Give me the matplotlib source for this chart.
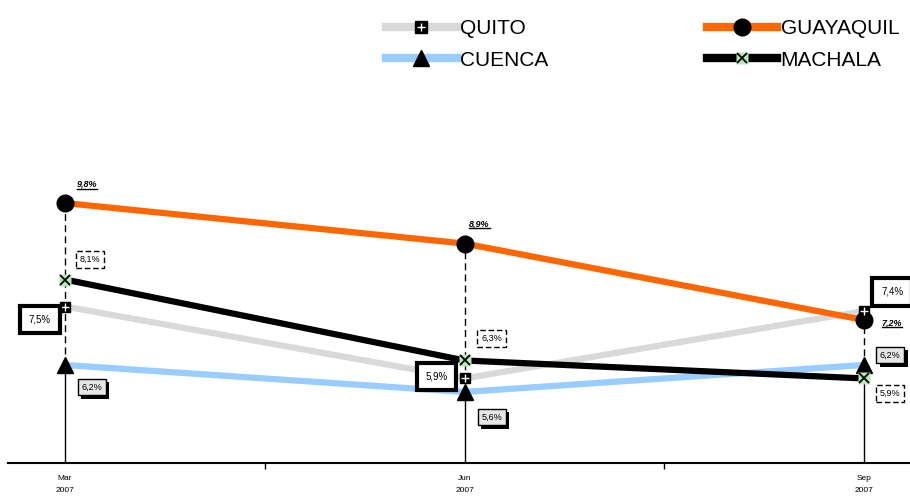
import numpy as np
import matplotlib
matplotlib.use("Agg")
import matplotlib.pyplot as plt
from matplotlib.lines import Line2D
from matplotlib.legend_handler import HandlerTuple
import matplotlib.patheffects as pe

plt.rcParams['font.family'] = ['Liberation Sans', 'DejaVu Sans']

months = ['Mar\n2007', 'Jun\n2007', 'Sep\n2007']
quito = [7.5, 5.9, 7.4]
guayaquil = [9.8, 8.9, 7.2]
cuenca = [6.2, 5.6, 6.2]
machala = [8.1, 6.3, 5.9]

C_QUITO = '#d9d9d9'
C_GYE = '#ff6600'
C_CUE = '#99ccff'
C_MACH = '#000000'


def fmt(v):
    return f"{v:.1f}%".replace('.', ',')


fig = plt.figure(figsize=(9.1, 5), dpi=100)
ax = fig.add_axes([8 / 910, 37 / 500, 902 / 910, 313 / 500])
x = np.arange(len(months))
ymin, ymax = 4.02, 10.98
ax.set_xlim(-0.1427, 2.115)
ax.set_ylim(ymin, ymax)

# drop lines / high-low lines
allv = np.array([quito, guayaquil, cuenca, machala])
lo = allv.min(axis=0)
hi = allv.max(axis=0)
ax.vlines(x, ymin, lo, colors='black', lw=1, zorder=1)
ax.vlines(x, lo, hi, colors='black', lw=1, linestyles=(0, (5, 3)), zorder=1)

# lines
ax.plot(x, quito, color=C_QUITO, lw=4.5, solid_capstyle='butt', zorder=2)
ax.plot(x, cuenca, color=C_CUE, lw=4.5, solid_capstyle='butt', zorder=2)
ax.plot(x, machala, color=C_MACH, lw=4.5, solid_capstyle='butt', zorder=3)
ax.plot(x, guayaquil, color=C_GYE, lw=4.5, solid_capstyle='butt', zorder=3)

# markers
ax.plot(x, quito, 's', color='black', ms=7, zorder=5)
ax.plot(x, quito, '+', color='white', ms=6, mew=1, zorder=6)
ax.plot(x, cuenca, '^', color='black', ms=11, zorder=5)
ax.plot(x, machala, 's', color='#b8e8b8', ms=8, mec='none', zorder=5)
ax.plot(x, machala, 'x', color='black', ms=7, mew=1.3, zorder=6)
ax.plot(x, guayaquil, 'o', color='black', ms=12, zorder=5)

lab_fs = 6.5

# Guayaquil labels (underlined, no box)
gye_off = [(22, 19), (15, 20), (28, -3)]
gye_txt = []
for xi, v, off in zip(x, guayaquil, gye_off):
    t = ax.annotate(fmt(v), (xi, v), xytext=off, textcoords='offset pixels',
                    ha='center', va='center', fontsize=lab_fs, fontweight='bold',
                    fontstyle='italic', zorder=8)
    gye_txt.append(t)

# Machala labels (dashed box)
mach_off = [(25, 20), (27, 22), (26, -15)]
for xi, v, off in zip(x, machala, mach_off):
    ax.annotate(fmt(v), (xi, v), xytext=off, textcoords='offset pixels',
                ha='center', va='center', fontsize=lab_fs, zorder=8,
                bbox=dict(boxstyle='square,pad=0.45', fc='white', ec='black',
                          lw=1, ls=(0, (4, 2))))

# Quito labels (heavy box)
quito_off = [(-25, -13), (-28, 2), (28, 19)]
for xi, v, off in zip(x, quito, quito_off):
    t = ax.annotate(fmt(v), (xi, v), xytext=off, textcoords='offset pixels',
                    ha='center', va='center', fontsize=lab_fs + 0.5, zorder=8,
                    bbox=dict(boxstyle='square,pad=0.9', fc='white', ec='black', lw=3))
    t.get_bbox_patch().set_path_effects([
        pe.SimplePatchShadow(offset=(-1.5, -1.5), shadow_rgbFace='black', alpha=1),
        pe.Normal()])

# Cuenca labels (grey box with shadow)
cue_off = [(27, -22), (27, -25), (26, 10)]
for xi, v, off in zip(x, cuenca, cue_off):
    t = ax.annotate(fmt(v), (xi, v), xytext=off, textcoords='offset pixels',
                    ha='center', va='center', fontsize=lab_fs, zorder=8,
                    bbox=dict(boxstyle='square,pad=0.4', fc='#e6e6e6', ec='black', lw=1))
    t.get_bbox_patch().set_path_effects([
        pe.SimplePatchShadow(offset=(2.5, -2.5), shadow_rgbFace='black', alpha=1),
        pe.Normal()])

# axes styling
for s in ['left', 'top', 'right']:
    ax.spines[s].set_visible(False)
ax.spines['bottom'].set_linewidth(1.5)
ax.set_yticks([])
ax.set_xticks(x)
ax.set_xticklabels(months, fontsize=6, linespacing=1.9)
ax.tick_params(axis='x', which='major', length=0, pad=9)
ax.set_xticks([0.5, 1.5], minor=True)
ax.tick_params(axis='x', which='minor', length=4, width=1, direction='out')

# legend
h_quito = (Line2D([], [], color=C_QUITO, lw=6),
           Line2D([], [], marker='s', color='black', ms=8, ls='none'),
           Line2D([], [], marker='+', color='white', ms=6, mew=1, ls='none'))
h_cue = (Line2D([], [], color=C_CUE, lw=6),
         Line2D([], [], marker='^', color='black', ms=11, ls='none'))
h_gye = (Line2D([], [], color=C_GYE, lw=6),
         Line2D([], [], marker='o', color='black', ms=12, ls='none'))
h_mach = (Line2D([], [], color=C_MACH, lw=6),
          Line2D([], [], marker='s', color='#b8e8b8', mec='none', ms=8, ls='none'),
          Line2D([], [], marker='x', color='black', ms=7, mew=1.3, ls='none'))
fig.legend([h_quito, h_cue, h_gye, h_mach], ['QUITO', 'CUENCA', 'GUAYAQUIL', 'MACHALA'],
           handler_map={tuple: HandlerTuple(ndivide=1)},
           ncol=2, loc='upper left', bbox_to_anchor=(386 / 910, 1 - 19 / 500),
           frameon=False, fontsize=15, handlelength=3.4, handletextpad=0.15,
           columnspacing=7.6, labelspacing=0.6, borderpad=0, borderaxespad=0)

# underline the Guayaquil labels
fig.canvas.draw()
inv = fig.transFigure.inverted()
for t in gye_txt:
    bb = t.get_window_extent()
    (x0, y0), (x1, _) = inv.transform([(bb.x0, bb.y0), (bb.x1, bb.y1)])
    fig.add_artist(Line2D([x0, x1], [y0, y0], color='black', lw=1,
                          transform=fig.transFigure))

fig.savefig('out.png', dpi=100)
